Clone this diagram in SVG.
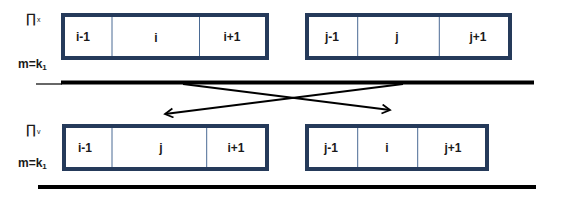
<svg xmlns="http://www.w3.org/2000/svg" width="566" height="204" viewBox="0 0 566 204">
<defs>
<style>
.box{fill:#fff;stroke:#253a5a;stroke-width:4}
.div{stroke:#4a6a94;stroke-width:1}
.t{font-family:"Liberation Sans",Arial,sans-serif;font-weight:bold;font-size:12px;fill:#1a1a1a;text-anchor:middle}
.lab{font-family:"Liberation Sans",Arial,sans-serif;font-weight:bold;font-size:12px;fill:#1a1a1a}
.pi{font-family:"DejaVu Sans","Liberation Sans",sans-serif;font-size:13px;fill:#1a1a1a}
.sub{font-family:"Liberation Sans",Arial,sans-serif;font-size:7px;fill:#1a1a1a}
.thick{stroke:#000;stroke-width:4}
.arr{stroke:#000;stroke-width:1.8;fill:none;marker-end:url(#ah)}
</style>
<marker id="ah" markerUnits="userSpaceOnUse" markerWidth="12" markerHeight="12" refX="9" refY="5" orient="auto">
<path d="M1,0.5 L9,5 L1,9.5" fill="none" stroke="#000" stroke-width="1.8"/>
</marker>
</defs>
<g id="labels">
<text class="pi" x="26" y="23">∏</text><text class="sub" x="37" y="22">x</text>
<text class="lab" x="18" y="68">m=k<tspan font-size="8" dy="2">1</tspan></text>
<text class="pi" x="26" y="134">∏</text><text class="sub" x="37" y="134">v</text>
<text class="lab" x="18" y="167">m=k<tspan font-size="8" dy="2">1</tspan></text>
</g>
<g id="box-top-left">
<rect class="box" x="63" y="15" width="204" height="43"/>
<line class="div" x1="112" y1="17" x2="112" y2="56"/>
<line class="div" x1="199.5" y1="17" x2="199.5" y2="56"/>
<text class="t" x="83" y="41">i-1</text>
<text class="t" x="156" y="42">i</text>
<text class="t" x="232" y="41">i+1</text>
</g>
<g id="box-top-right">
<rect class="box" x="307" y="15" width="203" height="43"/>
<line class="div" x1="357.7" y1="17" x2="357.7" y2="56"/>
<line class="div" x1="439.3" y1="17" x2="439.3" y2="56"/>
<text class="t" x="332" y="41">j-1</text>
<text class="t" x="397" y="41">j</text>
<text class="t" x="478" y="41">j+1</text>
</g>
<g id="box-bottom-left">
<rect class="box" x="64" y="126" width="203" height="43"/>
<line class="div" x1="112" y1="128" x2="112" y2="167"/>
<line class="div" x1="206.7" y1="128" x2="206.7" y2="167"/>
<text class="t" x="85" y="152">i-1</text>
<text class="t" x="161" y="152">j</text>
<text class="t" x="236" y="152">i+1</text>
</g>
<g id="box-bottom-right">
<rect class="box" x="307" y="126" width="180" height="43"/>
<line class="div" x1="357.7" y1="128" x2="357.7" y2="167"/>
<line class="div" x1="417.7" y1="128" x2="417.7" y2="167"/>
<text class="t" x="331" y="152">j-1</text>
<text class="t" x="387" y="152">i</text>
<text class="t" x="453" y="152">j+1</text>
</g>
<g id="connectors">
<line x1="36" y1="84" x2="62" y2="84" stroke="#000" stroke-width="1.2"/>
<line class="thick" x1="61" y1="82.5" x2="534" y2="82.5"/>
<line class="thick" x1="38" y1="187" x2="536" y2="187"/>
<line class="arr" x1="183" y1="84" x2="390" y2="110"/>
<line class="arr" x1="403" y1="84" x2="165" y2="114"/>
</g>
</svg>
